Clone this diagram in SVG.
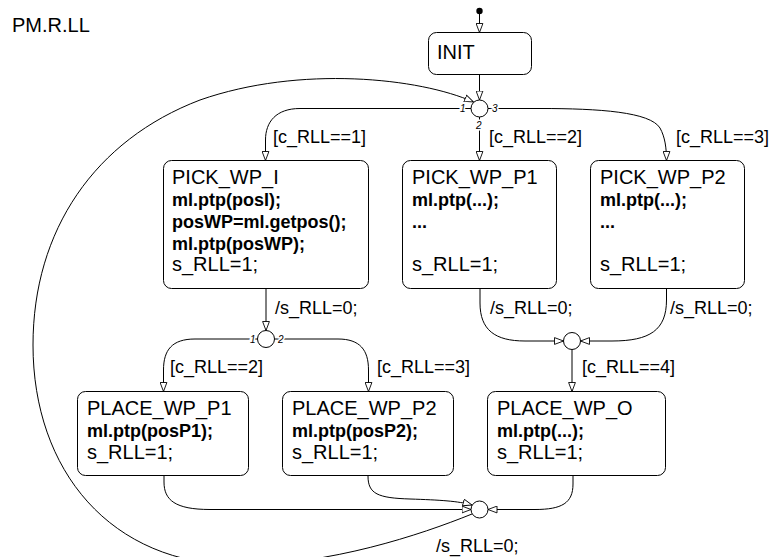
<svg xmlns="http://www.w3.org/2000/svg" width="773" height="557" viewBox="0 0 773 557">
<defs>
<marker id="arr" viewBox="0 0 10 8" refX="9.5" refY="4" markerWidth="10" markerHeight="8" markerUnits="userSpaceOnUse" orient="auto">
<path d="M0.5,0.6 L9.5,4 L0.5,7.4 Z" fill="#fff" stroke="#000" stroke-width="0.9"/>
</marker>
<style>
.st{fill:#fff;stroke:#000;stroke-width:1}
.jn{fill:#fff;stroke:#000;stroke-width:1}
.cn{fill:none;stroke:#000;stroke-width:1}
.ar{marker-end:url(#arr)}
text{font-family:"Liberation Sans",Arial,sans-serif;fill:#000}
.nm{font-size:20px}
.bd{font-size:18px;font-weight:bold}
.lb{font-size:18px}
.jl{font-size:10px;font-style:italic;stroke:#fff;stroke-width:3;paint-order:stroke}
</style>
</defs>
<rect width="773" height="557" fill="#fff"/>
<text class="nm" x="12" y="32">PM.R.LL</text>

<g id="connectors">
<circle cx="479.5" cy="11" r="3.2" fill="#000"/>
<path class="cn ar" d="M479.5,14 L479.5,32.5"/>
<path class="cn ar" d="M479.5,75 L479.5,100"/>
<path class="cn ar" d="M471,108.5 L300,108.5 C276,108.5 265.5,122 265.5,140 L265.5,160.5"/>
<path class="cn ar" d="M479.5,117 L479.5,160.5"/>
<path class="cn ar" d="M488,108.5 L540,108.5 C600,108.5 650,112 660,128 C665,137 666.5,148 666.5,160.5"/>
<path class="cn ar" d="M266,288.5 L266,330.5"/>
<path class="cn ar" d="M257.5,339 L195,339 C172,339 163.5,350 163.5,370 L163.5,391.5"/>
<path class="cn ar" d="M274.5,339 L338,339 C360,339 368.5,350 368.5,370 L368.5,391.5"/>
<path class="cn ar" d="M480,288.5 L480,303 C480,330 495,341 525,341 L563.5,341"/>
<path class="cn ar" d="M666.5,288.5 L666.5,300 C666.5,330 650,341 612,341 L580.5,341"/>
<path class="cn ar" d="M572,349.5 L572,391.5"/>
<path class="cn ar" d="M164,476 L164,482 C164,500 175,509.5 210,509.5 L471,509.5"/>
<path class="cn ar" d="M368,476 C368,494 378,498 410,499 C440,500 458,501 472,505"/>
<path class="cn ar" d="M573,476 L573,484 C573,503 562,509.5 535,509.5 L488,509.5"/>
<path class="cn ar" d="M472,514 C420,535 330,565 240,565 C110,565 33,470 33,345 C33,230 95,140 200,100 C300,65 420,78 473.5,102"/>
<circle class="jn" cx="479.5" cy="108.5" r="8.5"/>
<circle class="jn" cx="266" cy="339" r="8.5"/>
<circle class="jn" cx="572" cy="341" r="8.5"/>
<circle class="jn" cx="479.5" cy="509.5" r="8.5"/>
<text class="jl" x="460" y="112">1</text>
<text class="jl" x="492" y="112">3</text>
<text class="jl" x="476" y="129">2</text>
<text class="jl" x="250" y="342.5">1</text>
<text class="jl" x="278" y="342.5">2</text>
<text class="lb" x="273" y="143">[c_RLL==1]</text>
<text class="lb" x="489" y="143">[c_RLL==2]</text>
<text class="lb" x="676" y="143">[c_RLL==3]</text>
<text class="lb" x="275" y="314">/s_RLL=0;</text>
<text class="lb" x="490" y="314">/s_RLL=0;</text>
<text class="lb" x="670" y="314">/s_RLL=0;</text>
<text class="lb" x="170" y="373">[c_RLL==2]</text>
<text class="lb" x="377" y="373">[c_RLL==3]</text>
<text class="lb" x="582" y="373">[c_RLL==4]</text>
<text class="lb" x="436" y="552">/s_RLL=0;</text>
</g>

<g id="INIT">
<rect class="st" x="428.5" y="32.5" width="103" height="42" rx="8"/>
<text class="nm" x="437" y="59">INIT</text>
</g>

<g id="PICK_WP_I">
<rect class="st" x="163.5" y="160.5" width="205" height="128" rx="8"/>
<text class="nm" x="172" y="184">PICK_WP_I</text>
<text class="bd" x="172" y="206">ml.ptp(posI);</text>
<text class="bd" x="172" y="228">posWP=ml.getpos();</text>
<text class="bd" x="172" y="250">ml.ptp(posWP);</text>
<text class="nm" x="172" y="271">s_RLL=1;</text>
</g>

<g id="PICK_WP_P1">
<rect class="st" x="402.5" y="160.5" width="154" height="128" rx="8"/>
<text class="nm" x="412" y="184">PICK_WP_P1</text>
<text class="bd" x="412" y="206">ml.ptp(...);</text>
<text class="bd" x="412" y="228">...</text>
<text class="nm" x="412" y="271">s_RLL=1;</text>
</g>

<g id="PICK_WP_P2">
<rect class="st" x="590.5" y="160.5" width="154" height="128" rx="8"/>
<text class="nm" x="600" y="184">PICK_WP_P2</text>
<text class="bd" x="600" y="206">ml.ptp(...);</text>
<text class="bd" x="600" y="228">...</text>
<text class="nm" x="600" y="271">s_RLL=1;</text>
</g>

<g id="PLACE_WP_P1">
<rect class="st" x="77.5" y="391.5" width="171" height="84" rx="8"/>
<text class="nm" x="87" y="415">PLACE_WP_P1</text>
<text class="bd" x="87" y="437">ml.ptp(posP1);</text>
<text class="nm" x="87" y="459">s_RLL=1;</text>
</g>

<g id="PLACE_WP_P2">
<rect class="st" x="282.5" y="391.5" width="171" height="84" rx="8"/>
<text class="nm" x="292" y="415">PLACE_WP_P2</text>
<text class="bd" x="292" y="437">ml.ptp(posP2);</text>
<text class="nm" x="292" y="459">s_RLL=1;</text>
</g>

<g id="PLACE_WP_O">
<rect class="st" x="487.5" y="391.5" width="178" height="84" rx="8"/>
<text class="nm" x="497" y="415">PLACE_WP_O</text>
<text class="bd" x="497" y="437">ml.ptp(...);</text>
<text class="nm" x="497" y="459">s_RLL=1;</text>
</g>
</svg>
